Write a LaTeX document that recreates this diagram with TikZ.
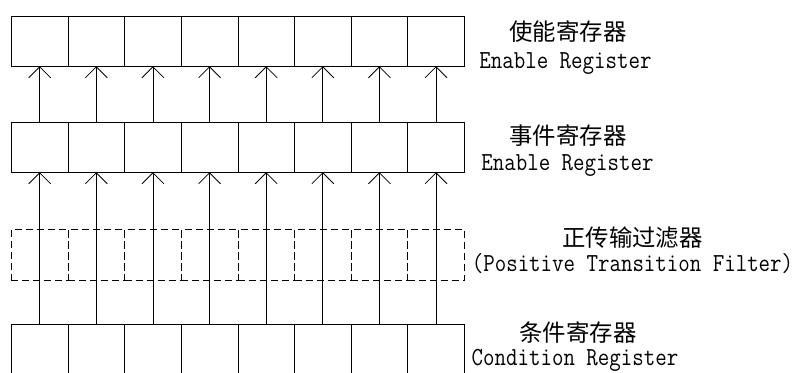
\documentclass[tikz,border=0pt]{standalone}
\usepackage{fontspec}
\newfontfamily\cjk{Noto Sans CJK SC}
\newcommand{\enfont}{\ttfamily\fontsize{26}{28}\selectfont}
\newcommand{\cjkfont}{\cjk\fontsize{23.4}{26}\selectfont}
\newcommand{\entext}[1]{\scalebox{0.857}[1]{#1}}
\begin{document}
\begin{tikzpicture}[x=1pt,y=-1pt,
  cellbox/.style={draw=black, line width=0.8pt, rectangle, minimum width=56.625pt, minimum height=50pt, inner sep=0pt, anchor=north west},
  dashcell/.style={cellbox, minimum height=51pt, dash pattern=on 7pt off 4pt},
  opencell/.style={cellbox, minimum height=70pt},
  arr/.style={line width=0.8pt},
  cjklabel/.style={inner sep=0pt, font=\cjkfont},
  enlabel/.style={inner sep=0pt, anchor=base, font=\enfont}]
\useasboundingbox (0,0) rectangle (800,372);
\clip (0,0) rectangle (800,372);
\foreach \i in {1,...,8}{
  \pgfmathsetmacro{\xx}{11+(\i-1)*56.625}
  \node[cellbox] (a\i) at (\xx,16) {};
  \node[cellbox] (b\i) at (\xx,122) {};
  \node[dashcell] (c\i) at (\xx,229) {};
  \node[opencell] (d\i) at (\xx,324) {};
}
\foreach \i in {1,...,8}{
  \draw[arr] (d\i.north) -- (b\i.south);
  \draw[arr] (b\i.south) ++(-11,11) -- (b\i.south) -- ++(11,11);
  \draw[arr] (b\i.north) -- (a\i.south);
  \draw[arr] (a\i.south) ++(-11,11) -- (a\i.south) -- ++(11,11);
}
\node[cjklabel] (t1) at (568,31.5) {使能寄存器};
\node[enlabel] (e1) at (565.5,68) {\entext{Enable Register}};
\node[cjklabel] (t2) at (568,136) {事件寄存器};
\node[enlabel] (e2) at (567.5,170) {\entext{Enable Register}};
\node[cjklabel] (t3) at (632.5,237.5) {正传输过滤器};
\node[enlabel] (e3) at (632.5,271) {\entext{(Positive Transition Filter)}};
\node[cjklabel] (t4) at (578,332.5) {条件寄存器};
\node[enlabel] (e4) at (575,365) {\entext{Condition Register}};
\end{tikzpicture}
\end{document}
